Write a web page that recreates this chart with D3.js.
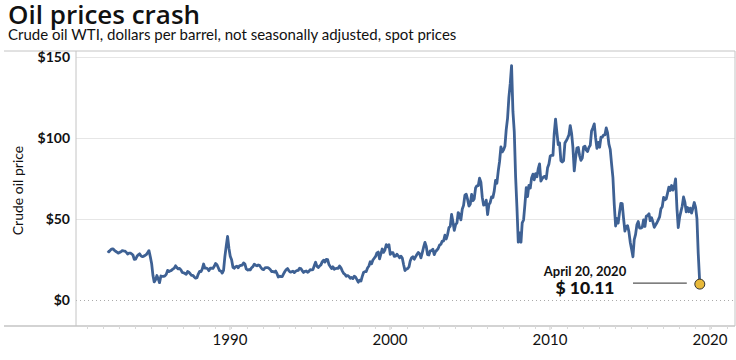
<!DOCTYPE html>
<html><head><meta charset="utf-8">
<script src="https://cdn.jsdelivr.net/npm/d3@7"></script>
<style>
body{margin:0;background:#fff}
svg{display:block;font-family:Lato,"Open Sans",sans-serif}
</style>
</head><body>
<svg id="chart" width="736" height="360"></svg>
<script>
const titleText = "Oil prices crash";
const subtitleText = "Crude oil WTI, dollars per barrel, not seasonally adjusted, spot prices";
const yAxisTitle = "Crude oil price";
const yTickValues = [0, 50, 100, 150];
const xLabelYears = [1990, 2000, 2010, 2020];
const seriesStartYear = 1983;
const seriesStartMonth = 3; // April 1983, monthly points
const prices1980s = [
  30.6, 30.0, 31.0, 31.7, 31.9, 31.1, 30.4, 29.8, 29.2,
  29.7, 30.1, 30.8, 30.6, 30.5, 29.8, 28.7, 29.3, 29.3, 28.8, 28.1, 25.4,
  25.6, 27.3, 28.2, 28.8, 27.6, 27.1, 27.3, 27.8, 28.3, 29.5, 30.8, 27.2,
  22.9, 15.4, 11.5, 12.8, 15.4, 13.4, 11.0, 15.1, 14.9, 14.9, 15.2, 16.1,
  18.6, 17.8, 18.3, 18.6, 19.4, 20.0, 21.4, 20.3, 19.5, 19.8, 18.9, 17.3,
  17.1, 16.7, 16.2, 17.9, 17.4, 16.5, 15.5, 15.5, 14.5, 13.8, 14.1, 16.3,
  18.0, 17.8, 19.4, 22.5, 20.0, 20.0, 19.6, 18.4, 19.9, 19.9, 19.8, 21.1
];
const prices1990s = [
  22.9, 22.1, 20.4, 18.4, 18.2, 16.9, 18.6, 27.2, 33.7, 39.5, 32.3, 27.3,
  25.2, 20.5, 19.9, 20.8, 21.2, 20.2, 21.4, 21.7, 21.9, 23.2, 22.5, 19.5,
  18.8, 19.0, 18.9, 20.2, 20.9, 22.4, 21.8, 21.4, 21.9, 21.7, 20.3, 19.4,
  19.1, 20.1, 20.3, 20.3, 19.9, 19.1, 17.9, 18.0, 17.5, 18.2, 16.7, 14.5,
  15.0, 14.8, 14.7, 16.4, 17.9, 19.1, 19.7, 18.4, 17.5, 17.7, 18.1, 17.2,
  18.0, 18.5, 18.6, 19.9, 19.7, 18.4, 17.3, 18.0, 18.2, 17.4, 18.0, 19.0,
  18.9, 19.1, 21.4, 23.6, 21.2, 20.4, 21.3, 22.0, 24.0, 24.9, 23.7, 25.4,
  25.2, 22.2, 21.0, 19.7, 20.8, 19.3, 19.7, 19.9, 19.8, 21.3, 20.2, 18.3,
  16.7, 16.1, 15.0, 15.4, 14.9, 13.7, 14.2, 13.5, 15.0, 14.4, 12.9, 11.3,
  12.5, 12.0, 14.7, 17.3, 17.8, 17.9, 20.1, 21.3, 23.9, 22.6, 25.0, 26.1
];
const prices2000s = [
  27.2, 29.4, 29.9, 25.7, 28.8, 31.8, 29.7, 31.2, 34.5, 33.1, 34.4, 28.5,
  29.6, 29.6, 27.2, 27.4, 28.6, 27.6, 26.4, 27.4, 26.2, 22.2, 18.5, 19.4,
  19.7, 20.7, 24.4, 26.3, 27.0, 25.5, 26.9, 28.4, 29.7, 28.9, 26.3, 29.4,
  32.9, 35.9, 33.6, 28.3, 28.1, 30.7, 30.8, 31.6, 28.3, 30.3, 31.1, 32.2,
  34.3, 34.7, 36.7, 36.7, 40.3, 38.0, 40.7, 44.9, 45.9, 53.1, 48.5, 43.3,
  46.8, 48.0, 54.3, 53.0, 49.8, 56.3, 58.7, 65.0, 65.6, 62.4, 58.3, 59.4,
  65.5, 61.6, 62.7, 69.4, 70.8, 70.9, 75.5, 73.0, 63.8, 58.9, 59.1, 62.0,
  53.0, 59.3, 60.4, 64.0, 63.5, 67.5, 74.1, 72.4, 79.9, 85.8, 94.8, 91.7,
  93.0, 95.4, 105.5, 112.6, 125.4, 134.0, 145.0, 116.7, 104.1, 76.6, 57.3, 36.0,
  41.7, 36.0, 47.9, 49.7, 59.0, 69.6, 64.2, 71.1, 69.4, 75.7, 78.0, 74.5
];
const prices2010s = [
  78.3, 76.4, 81.2, 84.3, 73.7, 75.3, 76.3, 76.6, 75.2, 81.9, 84.3, 89.2,
  89.6, 89.6, 102.9, 112.0, 104.0, 96.3, 97.3, 86.3, 85.5, 86.3, 97.2, 98.6,
  100.3, 102.2, 108.0, 103.3, 94.7, 80.0, 87.9, 94.1, 94.5, 89.5, 86.5, 87.9,
  94.8, 95.3, 92.9, 92.0, 94.5, 95.8, 104.6, 106.6, 109.0, 100.5, 93.9, 97.6,
  94.6, 100.8, 100.8, 102.1, 102.2, 106.5, 103.6, 96.5, 93.2, 84.4, 75.8, 59.3,
  46.0, 50.6, 47.8, 54.5, 60.0, 59.8, 50.9, 42.9, 45.5, 46.2, 42.4, 36.0,
  31.7, 27.0, 37.5, 40.8, 46.7, 48.8, 44.7, 44.7, 45.2, 49.8, 45.7, 52.0,
  52.5, 53.5, 49.3, 51.1, 48.5, 45.2, 46.6, 48.0, 49.8, 51.6, 56.6, 57.9,
  63.7, 62.2, 62.7, 66.3, 70.0, 67.9, 71.0, 68.1, 70.2, 75.0, 57.0, 45.0,
  51.4, 55.0, 58.2, 63.9, 60.8, 54.7, 57.4, 54.8, 57.0, 54.0, 57.0, 60.5
];
const prices2020 = [57.5, 50.5, 29.2];
const lastDate = "2020-04-20";
const lastPrice = 10.11;
const annotationLabel = "April 20, 2020";

const svg = d3.select("#chart");
const plot = {left: 76, right: 735, top: 51, bottom: 326};

const monthly = [].concat(prices1980s, prices1990s, prices2000s, prices2010s, prices2020);
const data = monthly.map((v, i) => ({date: new Date(seriesStartYear, seriesStartMonth + i, 15), value: v}));
const lastD = d3.timeParse("%Y-%m-%d")(lastDate);
data.push({date: lastD, value: lastPrice});

const x = d3.scaleTime().domain([new Date(1982, 0, 1), new Date(2022, 0, 1)]).range([87, 727]);
const y = d3.scaleLinear().domain([0, 150]).range([300.5, 57.5]);

// title
svg.append("text").attr("x", 8).attr("y", 24).attr("font-size", 26).attr("font-weight", 600)
  .attr("font-family", "'Open Sans', Lato, sans-serif").attr("fill", "#111").text(titleText);
svg.append("text").attr("x", 8).attr("y", 40).attr("font-size", 15).attr("fill", "#111").text(subtitleText);

// gridlines
svg.append("g").selectAll("line").data(yTickValues.filter(d => d > 0)).join("line")
  .attr("x1", plot.left).attr("x2", plot.right).attr("y1", d => y(d)).attr("y2", d => y(d))
  .attr("stroke", "#e6e6e6").attr("stroke-width", 1);
svg.append("line").attr("x1", plot.left).attr("x2", plot.right).attr("y1", y(0)).attr("y2", y(0))
  .attr("stroke", "#aaa").attr("stroke-width", 1).attr("stroke-dasharray", "1,3");

// frame
const frameColor = "#c4c4c4";
svg.append("line").attr("x1", 4).attr("x2", plot.right).attr("y1", plot.top).attr("y2", plot.top).attr("stroke", frameColor);
svg.append("line").attr("x1", 4).attr("x2", plot.right).attr("y1", plot.bottom).attr("y2", plot.bottom).attr("stroke", frameColor).attr("stroke-width", 1.5);
svg.append("line").attr("x1", plot.right).attr("x2", plot.right).attr("y1", plot.top).attr("y2", plot.bottom).attr("stroke", frameColor);
svg.append("line").attr("x1", plot.left).attr("x2", plot.left).attr("y1", plot.top).attr("y2", plot.bottom).attr("stroke", frameColor);

// y labels
svg.append("g").selectAll("text").data(yTickValues).join("text")
  .attr("x", 70).attr("y", d => y(d)).attr("dy", "0.35em").attr("text-anchor", "end")
  .attr("font-size", 14).attr("font-weight", 700).attr("fill", "#111").text(d => "$" + d);
svg.append("text").attr("transform", `translate(23,${(plot.top + plot.bottom) / 2 + 2}) rotate(-90)`)
  .attr("text-anchor", "middle").attr("font-size", 14).attr("fill", "#111").text(yAxisTitle);

// x axis minor ticks
const minor = svg.append("g").attr("transform", `translate(0,${plot.bottom})`)
  .call(d3.axisBottom(x).tickValues(d3.timeYear.range(new Date(1982, 0, 1), new Date(2022, 0, 2))).tickSize(3).tickFormat(""));
minor.select(".domain").remove();
minor.selectAll("line").attr("stroke", "#d8d8d8");
const major = svg.append("g").attr("transform", `translate(0,${plot.bottom})`)
  .call(d3.axisBottom(x).tickValues(xLabelYears.map(yr => new Date(yr, 10, 27))).tickFormat(d3.timeFormat("%Y")).tickSize(4).tickPadding(4));
major.select(".domain").remove();
major.selectAll("line").attr("stroke", "#d0d0d0");
major.selectAll("text").attr("font-size", 15).attr("fill", "#111").attr("font-family", "Lato, sans-serif");

// line
svg.append("path").datum(data)
  .attr("fill", "none").attr("stroke", "#3e6194").attr("stroke-width", 2.8).attr("stroke-linejoin", "round")
  .attr("d", d3.line().x(d => x(d.date)).y(d => y(d.value)));

// annotation
const ax = x(lastD), ay = y(lastPrice);
svg.append("line").attr("x1", 633).attr("x2", ax - 13).attr("y1", ay - 1).attr("y2", ay - 1)
  .attr("stroke", "#555").attr("stroke-width", 1.3);
svg.append("circle").attr("cx", ax).attr("cy", ay).attr("r", 5)
  .attr("fill", "#e8b93a").attr("stroke", "#333").attr("stroke-width", 1);
svg.append("text").attr("x", 585).attr("y", 276).attr("text-anchor", "middle")
  .attr("font-size", 13).attr("font-weight", 700).attr("fill", "#111").text(annotationLabel);
svg.append("text").attr("x", 585).attr("y", 294).attr("text-anchor", "middle")
  .attr("font-size", 17.5).attr("font-weight", 900).attr("fill", "#111").text("$ " + d3.format(".2f")(lastPrice));
</script>
</body></html>
